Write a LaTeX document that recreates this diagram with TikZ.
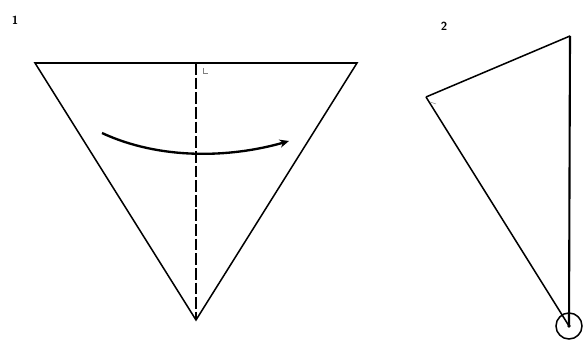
\documentclass[tikz,border=0pt]{standalone}
\usetikzlibrary{arrows.meta}
\begin{document}
\begin{tikzpicture}[x=0.03cm, y=-0.03cm, line width=1.3pt]
        \useasboundingbox (0,0) rectangle (587,344);
    
        % Coordinates of step 1
        \coordinate (A) at (35,63);
        \coordinate (B) at (357,63);
        \coordinate (C) at (196,320);
        \coordinate (T) at (196,63);
    
        % Coordinates of step 2
        \coordinate (P) at (426,97);
        \coordinate (Q) at (570,36);
        \coordinate (R) at (569,326);
    
        % Draw step labels
        \node[font=\sffamily\bfseries] (one) at (15,20) {1};
        \node[font=\sffamily\bfseries] (two) at (444,26) {2};
    
        % Draw triangle and fold line
        \draw (A) -- (B) -- (C) -- cycle;
        \draw[line width=2.2pt, dash pattern=on 10pt off 2.5pt] (T) -- (C);
        \draw[line width=0.4pt, gray] (203,68) -- (203,73) -- (208,73);
    
        % Draw fold arrow
        \coordinate (s) at (102,133);
        \coordinate (e) at (289,141);
        \draw[line width=2pt, -{Stealth[length=8pt,width=7pt]}] (s) .. controls (160,160) and (230,158) .. (e);
    
        % Draw folded shape
        \draw (P) -- (Q);
        \draw (P) -- (R);
        \draw[line width=1.8pt] (Q) -- (R);
        \draw[line width=0.4pt, gray] (430,102) -- (436,104);
    
        % Draw point marker
        \draw (R) circle (13);
        \fill (R) circle (1.5pt);
    \end{tikzpicture}
\end{document}
